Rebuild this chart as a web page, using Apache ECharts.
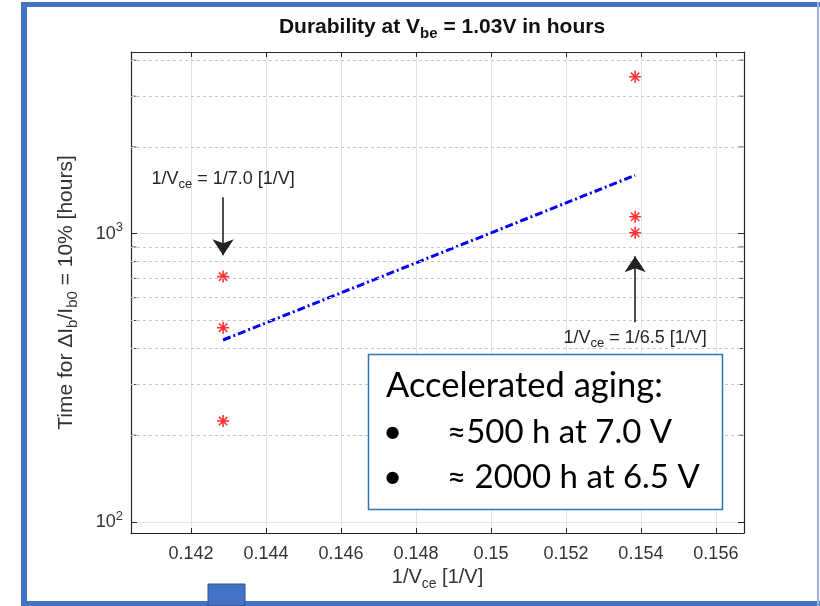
<!DOCTYPE html>
<html>
<head>
<meta charset="utf-8">
<script src="https://cdn.jsdelivr.net/npm/echarts@6/dist/echarts.min.js"></script>
<style>
  html, body { margin: 0; padding: 0; background: #fff; }
  #main { width: 820px; height: 606px; }
</style>
</head>
<body>
<div id="main"></div>
<script>
  // measurements at 1/Vce = 1/7.0 and 1/Vce = 1/6.5
  var xLow = 1 / 7.0;
  var xHigh = 1 / 6.5;
  var hoursLow = [710, 472, 224];
  var hoursHigh = [3502, 1145, 1008];
  // fitted line (end points)
  var fitX = [xLow, xHigh];
  var fitHours = [428, 1595];
  // arrow start/end values (hours)
  var arrowLow = [1338, 842];
  var arrowHigh = [493, 836];
  // minor log grid
  var minorGrid = [200, 300, 400, 500, 600, 700, 800, 900, 2000, 3000, 4000];
  var xRange = [0.1404, 0.15675];
  var yRange = [91.6, 4270];

  var axisColor = '#262626';
  var labelColor = '#333';
  var font = '"Liberation Sans", Arial, sans-serif';
  var boxFont = 'Lato, "Open Sans", sans-serif';

  function xFmt(v) {
    var k = v / 0.002;
    if (Math.abs(k - Math.round(k)) > 1e-6) return '';
    return String(+v.toFixed(3));
  }
  function yFmt(v) {
    var l = Math.log10(v);
    var e = Math.round(l);
    if (Math.abs(l - e) > 1e-6) return '';
    return '{b|10}{p|' + e + '}';
  }

  var starSymbol = 'path://M0,-10L0,10M-10,0L10,0M-7,-7L7,7M-7,7L7,-7';
  var starStyle = { color: 'red', borderColor: '#ff0000', borderWidth: 1.6 };

  var annRich = {
    t: { fontSize: 18, color: axisColor, fontFamily: font },
    s: { fontSize: 13, color: axisColor, fontFamily: font, padding: [12, 0, 0, 0] }
  };

  function arrowLine(x, vals, text, dist) {
    return {
      silent: true,
      symbol: ['none', 'arrow'],
      symbolSize: 16,
      lineStyle: { color: '#222', width: 1.6, type: 'solid' },
      label: {
        show: true,
        position: 'start',
        distance: dist,
        formatter: text,
        rich: annRich
      },
      data: [[{ coord: [x, vals[0]] }, { coord: [x, vals[1]] }]]
    };
  }

  var chart = echarts.init(document.getElementById('main'));
  var option = {
    animation: false,
    title: {
      text: '{t|Durability at V}{s|be}{t| = 1.03V in hours}',
      left: 437,
      top: 8,
      textAlign: 'center',
      textStyle: {
        rich: {
          t: { fontSize: 21, fontWeight: 'bold', color: '#111', fontFamily: font },
          s: { fontSize: 15, fontWeight: 'bold', color: '#111', fontFamily: font, padding: [13, 0, 0, 0] }
        }
      }
    },
    grid: { left: 131, right: 76, top: 52, bottom: 73 },
    xAxis: [{
      type: 'value',
      min: xRange[0],
      max: xRange[1],
      splitNumber: 8,
      name: '{t|1/V}{s|ce}{t| [1/V]}',
      nameLocation: 'middle',
      nameGap: 29,
      nameTextStyle: {
        rich: {
          t: { fontSize: 20, color: labelColor, fontFamily: font },
          s: { fontSize: 14, color: labelColor, fontFamily: font, padding: [12, 0, 0, 0] }
        }
      },
      axisLine: { lineStyle: { color: axisColor, width: 1.2 } },
      axisTick: { inside: true, length: 5, lineStyle: { color: axisColor } },
      axisLabel: {
        formatter: xFmt, showMinLabel: false, showMaxLabel: false,
        fontSize: 18, color: labelColor, fontFamily: font, margin: 12
      },
      splitLine: { show: true, lineStyle: { color: '#e3e3e3', width: 1 } }
    }, {
      type: 'value',
      position: 'top',
      min: xRange[0],
      max: xRange[1],
      splitNumber: 8,
      axisLine: { show: true, lineStyle: { color: axisColor, width: 1.2 } },
      axisTick: { inside: true, length: 5, lineStyle: { color: axisColor } },
      axisLabel: { show: false },
      splitLine: { show: false }
    }],
    yAxis: [{
      type: 'log',
      logBase: 10,
      min: yRange[0],
      max: yRange[1],
      name: '{t|Time for \u0394I}{s|b}{t|/I}{s|b0}{t| = 10% [hours]}',
      nameLocation: 'middle',
      nameGap: 51,
      nameRotate: 90,
      nameTextStyle: {
        rich: {
          t: { fontSize: 21, color: labelColor, fontFamily: font },
          s: { fontSize: 15, color: labelColor, fontFamily: font, padding: [13, 0, 0, 0] }
        }
      },
      axisLine: { show: true, lineStyle: { color: axisColor, width: 1.2 } },
      axisTick: { show: true, inside: true, length: 6, lineStyle: { color: axisColor } },
      axisLabel: {
        formatter: yFmt, showMinLabel: false, showMaxLabel: false, margin: 8,
        rich: {
          b: { fontSize: 18, color: labelColor, fontFamily: font },
          p: { fontSize: 13, color: labelColor, fontFamily: font, padding: [0, 0, 12, 0] }
        }
      },
      splitLine: { show: true, lineStyle: { color: '#e3e3e3', width: 1 } }
    }, {
      type: 'log',
      logBase: 10,
      position: 'right',
      min: yRange[0],
      max: yRange[1],
      axisLine: { show: true, lineStyle: { color: axisColor, width: 1.2 } },
      axisTick: { show: true, inside: true, length: 6, lineStyle: { color: axisColor } },
      axisLabel: { show: false },
      splitLine: { show: false }
    }],
    series: [{
      // minor dotted grid + minor ticks on both sides
      type: 'scatter',
      z: 1,
      silent: true,
      clip: false,
      symbol: 'rect',
      symbolSize: [5, 1],
      itemStyle: { color: axisColor },
      data: minorGrid.map(function (v) { return [xRange[0], v]; }),
      symbolOffset: [3, 0],
      markLine: {
        silent: true,
        symbol: 'none',
        label: { show: false },
        lineStyle: { color: '#c8c8c8', width: 1, type: [3, 3] },
        data: minorGrid.map(function (v) { return { yAxis: v }; })
      }
    }, {
      type: 'scatter',
      z: 1,
      silent: true,
      clip: false,
      symbol: 'rect',
      symbolSize: [5, 1],
      symbolOffset: [-3, 0],
      itemStyle: { color: axisColor },
      data: minorGrid.map(function (v) { return [xRange[1], v]; })
    }, {
      type: 'line',
      data: fitX.map(function (x, i) { return [x, fitHours[i]]; }),
      symbol: 'none',
      lineStyle: { color: '#0000ff', width: 3, type: [8, 3, 2, 3] }
    }, {
      type: 'scatter',
      symbol: starSymbol,
      symbolSize: 12,
      itemStyle: starStyle,
      data: hoursLow.map(function (v) { return [xLow, v]; }),
      markLine: arrowLine(xLow, arrowLow, '{t|1/V}{s|ce}{t| = 1/7.0 [1/V]}', 6)
    }, {
      type: 'scatter',
      symbol: starSymbol,
      symbolSize: 12,
      itemStyle: starStyle,
      data: hoursHigh.map(function (v) { return [xHigh, v]; }),
      markLine: arrowLine(xHigh, arrowHigh, '{t|1/V}{s|ce}{t| = 1/6.5 [1/V]}', 3)
    }],
    graphic: [
      // slide frame
      { type: 'rect', shape: { x: 21, y: 2, width: 799, height: 5 }, style: { fill: '#4472c4' } },
      { type: 'rect', shape: { x: 21, y: 2, width: 6, height: 604 }, style: { fill: '#4472c4' } },
      { type: 'rect', shape: { x: 21, y: 601, width: 799, height: 5 }, style: { fill: '#4472c4' } },
      { type: 'rect', shape: { x: 817, y: 2, width: 2, height: 604 }, style: { fill: '#9db3dd' } },
      { type: 'rect', shape: { x: 208, y: 584, width: 37, height: 22 }, style: { fill: '#4472c4', stroke: '#2f528f', lineWidth: 1 } },
      // text box
      { type: 'rect', z: 10, shape: { x: 368.5, y: 354.5, width: 354, height: 155 }, style: { fill: '#fff', stroke: '#2e75b6', lineWidth: 1.5 } },
      { type: 'text', z: 11, x: 386, y: 386, style: { text: 'Accelerated aging:', font: '34.5px ' + boxFont, fill: '#000', verticalAlign: 'middle' } },
      { type: 'text', z: 11, x: 383, y: 432, style: { text: '\u2022', font: '33px ' + boxFont, fill: '#000', verticalAlign: 'middle' } },
      { type: 'text', z: 11, x: 447, y: 432, style: { text: '\u2248500 h at 7.0 V', font: '33px ' + boxFont, fill: '#000', verticalAlign: 'middle' } },
      { type: 'text', z: 11, x: 383, y: 477, style: { text: '\u2022', font: '33px ' + boxFont, fill: '#000', verticalAlign: 'middle' } },
      { type: 'text', z: 11, x: 447, y: 477, style: { text: '\u2248 2000 h at 6.5 V', font: '33px ' + boxFont, fill: '#000', verticalAlign: 'middle' } }
    ]
  };
  chart.setOption(option);
</script>
</body>
</html>
